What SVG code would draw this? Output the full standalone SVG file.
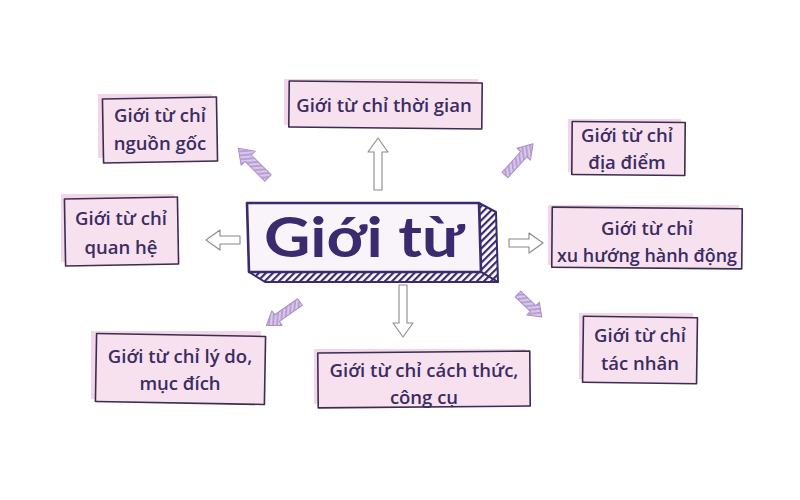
<svg xmlns="http://www.w3.org/2000/svg" width="800" height="500" viewBox="0 0 800 500">
<defs>
<style>
.shadow{fill:#f3d6e8;}
.box{fill:#f7e1ef;stroke:#3a2d50;stroke-width:1.6;stroke-linejoin:round;}
.lbl{font-family:"Open Sans","Liberation Sans",sans-serif;font-size:18.5px;fill:#3b2c62;text-anchor:middle;font-weight:600;}
.out{fill:#ffffff;stroke:#8a8a90;stroke-width:1.1;stroke-linejoin:round;}
.lil{fill:url(#lilHatch);stroke:#a88fc6;stroke-width:1;stroke-linejoin:round;}
</style>
<pattern id="hatch" patternUnits="userSpaceOnUse" width="5" height="5" patternTransform="rotate(45)">
<rect width="5" height="5" fill="#ffffff"/>
<rect width="2.2" height="5" fill="#3a2a6e"/>
</pattern>
<pattern id="lilHatch" patternUnits="userSpaceOnUse" width="4" height="4" patternTransform="rotate(40)">
<rect width="4" height="4" fill="#d9c7ea"/>
<rect width="1.8" height="4" fill="#b69bd3"/>
</pattern>
</defs>
<rect width="800" height="500" fill="#ffffff"/>

<g id="connectors">
<path class="out" transform="translate(378,190) rotate(-90)" d="M0,-4 L38,-4 L38,-10 L52,0 L38,10 L38,4 L0,4 Z"/>
<path class="out" transform="translate(403,285) rotate(90)" d="M0,-4 L38,-4 L38,-10 L52,0 L38,10 L38,4 L0,4 Z"/>
<path class="out" transform="translate(240,240) rotate(180)" d="M0,-4 L20,-4 L20,-10 L34,0 L20,10 L20,4 L0,4 Z"/>
<path class="out" transform="translate(509,243)" d="M0,-4 L20,-4 L20,-10 L34,0 L20,10 L20,4 L0,4 Z"/>
<path class="lil" transform="translate(268,178) rotate(-135)" d="M0,-4.5 L28,-4.5 L28,-10 L42,0 L28,10 L28,4.5 L0,4.5 Z"/>
<path class="lil" transform="translate(505,175) rotate(-48)" d="M0,-4 L28,-4 L28,-9 L42,0 L28,9 L28,4 L0,4 Z"/>
<path class="lil" transform="translate(300,302) rotate(145)" d="M0,-4 L28,-4 L28,-9 L41,0 L28,9 L28,4 L0,4 Z"/>
<path class="lil" transform="translate(518,294) rotate(44)" d="M0,-4 L21,-4 L21,-9 L33,0 L21,9 L21,4 L0,4 Z"/>
</g>

<g id="center">
<polygon points="479,203 496,212 498,282 481,272" fill="url(#hatch)" stroke="#3a2a6e" stroke-width="2" stroke-linejoin="round"/>
<polygon points="249,272 481,272 498,282 265,282" fill="url(#hatch)" stroke="#3a2a6e" stroke-width="2" stroke-linejoin="round"/>
<polygon points="247,203 479,203 481,272 249,272" fill="#f9f4fa" stroke="#3a2a6e" stroke-width="2.6" stroke-linejoin="round"/>
<text x="364" y="257" font-family="Lato,'Liberation Sans',sans-serif" font-weight="bold" font-size="56" fill="#3b2a6e" text-anchor="middle" textLength="200" lengthAdjust="spacingAndGlyphs">Giới từ</text>
</g>

<g id="n-nguon-goc">
<rect class="shadow" x="98" y="94" width="114" height="64"/>
<rect class="box" x="103" y="98" width="114" height="64" transform="rotate(-1 160 130)"/>
<text class="lbl" x="160" y="122">Giới từ chỉ</text>
<text class="lbl" x="160" y="150">nguồn gốc</text>
</g>

<g id="n-thoi-gian">
<rect class="shadow" x="284" y="79" width="194" height="46"/>
<rect class="box" x="289" y="82" width="193" height="46" transform="rotate(0.6 385 105)"/>
<text class="lbl" x="384" y="112">Giới từ chỉ thời gian</text>
</g>

<g id="n-dia-diem">
<rect class="shadow" x="568" y="119" width="113" height="53"/>
<rect class="box" x="572" y="122" width="113" height="53" transform="rotate(0.5 628 148)"/>
<text class="lbl" x="627" y="142">Giới từ chỉ</text>
<text class="lbl" x="627" y="169">địa điểm</text>
</g>

<g id="n-quan-he">
<rect class="shadow" x="61" y="194" width="113" height="68"/>
<rect class="box" x="65" y="198" width="113" height="67" transform="rotate(-1 121 231)"/>
<text class="lbl" x="121" y="225">Giới từ chỉ</text>
<text class="lbl" x="121" y="254">quan hệ</text>
</g>

<g id="n-xu-huong">
<rect class="shadow" x="548" y="205" width="191" height="60"/>
<rect class="box" x="552" y="208" width="190" height="60" transform="rotate(0.5 647 238)"/>
<text class="lbl" x="647" y="235">Giới từ chỉ</text>
<text class="lbl" x="647" y="262" textLength="180" lengthAdjust="spacingAndGlyphs">xu hướng hành động</text>
</g>

<g id="n-ly-do">
<rect class="shadow" x="91" y="331" width="170" height="68"/>
<rect class="box" x="96" y="335" width="169" height="68" transform="rotate(1 180 369)"/>
<text class="lbl" x="180" y="363">Giới từ chỉ lý do,</text>
<text class="lbl" x="180" y="390">mục đích</text>
</g>

<g id="n-cach-thuc">
<rect class="shadow" x="314" y="349" width="212" height="55"/>
<rect class="box" x="318" y="352" width="212" height="55" transform="rotate(-0.5 424 380)"/>
<text class="lbl" x="424" y="377">Giới từ chỉ cách thức,</text>
<text class="lbl" x="424" y="404">công cụ</text>
</g>

<g id="n-tac-nhan">
<rect class="shadow" x="579" y="313" width="114" height="66"/>
<rect class="box" x="583" y="317" width="114" height="66" transform="rotate(0.8 640 350)"/>
<text class="lbl" x="640" y="342">Giới từ chỉ</text>
<text class="lbl" x="640" y="370">tác nhân</text>
</g>
</svg>
